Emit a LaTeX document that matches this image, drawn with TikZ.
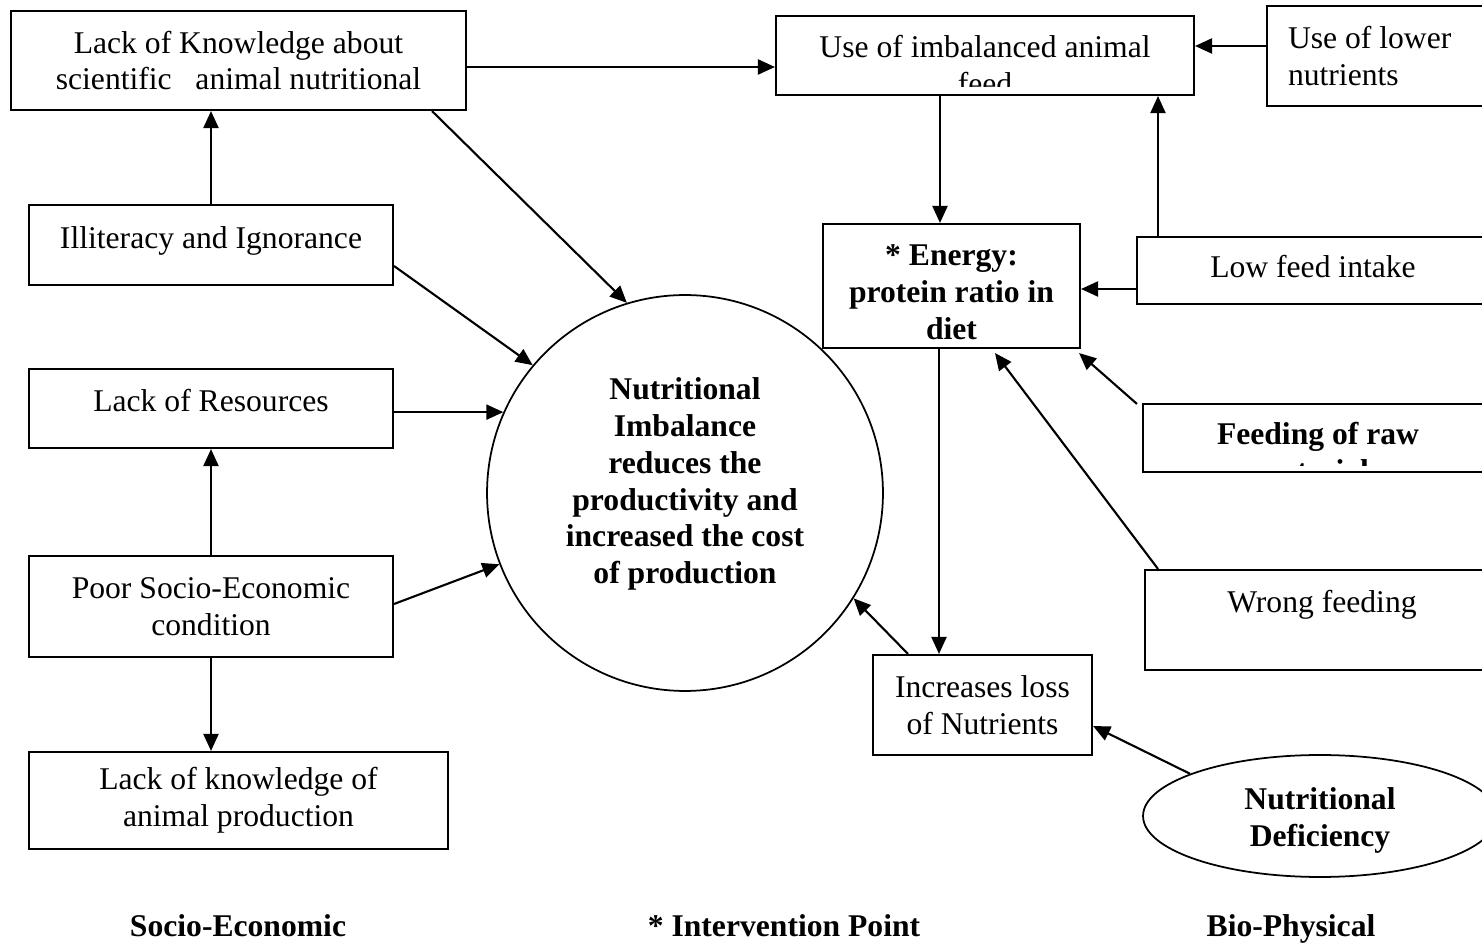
\documentclass[tikz,border=0pt]{standalone}
\usepackage{fontspec}
\setmainfont{Liberation Serif}
\usepackage{tikz}
\usetikzlibrary{arrows.meta,positioning,calc,shapes.geometric}

\begin{document}
\begin{tikzpicture}[x=0.02cm,y=-0.02cm,>=Stealth,
  txt/.style={align=center,inner sep=0pt,font=\fontsize{18}{21}\selectfont},
  btxt/.style={txt,font=\fontsize{18}{21}\selectfont\bfseries},
  box/.style={txt,draw,line width=1.2pt,rectangle},
  bbox/.style={btxt,draw,line width=1.2pt,rectangle},
  oneline/.style={text height=0.44cm,text depth=0.14cm},
  highline/.style={text height=0.44cm,text depth=0.30cm},
  link/.style={-{Triangle[length=0.34cm,width=0.3cm]},line width=1.2pt}]
\fill[white,use as bounding box] (0,0) rectangle (1482,945);
\clip (0,0) rectangle (1482,945);
% socio-economic side
\node[box,minimum width=9.1cm,minimum height=1.98cm] (know) at (238.5,60.5) {Lack of Knowledge about\\scientific \ \ animal nutritional};
\node[box,highline,minimum width=7.28cm,minimum height=1.6cm] (illit) at (211,245) {Illiteracy and Ignorance};
\node[box,highline,minimum width=7.28cm,minimum height=1.58cm] (res) at (211,408.5) {Lack of Resources};
\node[box,minimum width=7.28cm,minimum height=2.02cm] (poor) at (211,606.5) {Poor Socio-Economic\\condition};
\node[box,minimum width=8.38cm,minimum height=1.94cm] (prod) at (238.5,800.5) {Lack of knowledge of\\animal production};
% centre
\node[circle,draw,line width=1pt,minimum size=7.92cm,inner sep=0pt] (nib) at (685,493) {};
\node[btxt] (nibtext) at ($(nib.center)+(0,-9)$) {Nutritional\\Imbalance\\reduces the\\productivity and\\increased the cost\\of production};
% bio-physical side
\node[box,minimum width=8.36cm,minimum height=1.58cm] (imbal) at (985,55.5) {};
\begin{scope}
\clip (776,16) rectangle (1194,87);
\node[txt] (imbaltext) at (985,64.7) {Use of imbalanced animal\\feed};
\end{scope}
\node[box,align=flush left,text width=5.16cm,inner xsep=0.42cm,minimum height=2cm] (lower) at (1417,56) {Use of lower\\nutrients};
\node[bbox,minimum width=5.14cm,minimum height=2.48cm] (energy) at (951.5,286) {\rule{0pt}{0.67cm}* Energy:\\protein ratio in\\diet};
\node[box,oneline,minimum width=7.04cm,minimum height=1.34cm] (low) at (1313,270.5) {Low feed intake};
\node[box,minimum width=7cm,minimum height=1.36cm] (raw) at (1318,438) {};
\begin{scope}
\clip (1143,404) rectangle (1482,466);
\node[btxt] (rawtext) at (1318,452) {Feeding of raw\\materials};
\end{scope}
\node[box,text height=0.43cm,text depth=0.71cm,minimum width=7.08cm,minimum height=2cm] (wrong) at (1322,620) {Wrong feeding};
\node[box,minimum width=4.38cm,minimum height=2cm] (loss) at (982.5,705) {Increases loss\\of Nutrients};
\node[ellipse,draw,line width=1pt,btxt,minimum width=7.08cm,minimum height=2.44cm] (defi) at (1320,816) {\rule{0pt}{0.63cm}Nutritional\\Deficiency};
% connectors
\draw[link] (know.east |- 0,67) -- (imbal.west |- 0,67);
\draw[link] (know.south -| 432,0) -- (nib.107);
\draw[link] (illit.north) -- (know.south -| illit.north);
\draw[link] (illit.east |- 0,266) -- (nib.140);
\draw[link] (res.east |- nib.156) -- (nib.156);
\draw[link] (poor.north) -- (res.south);
\draw[link] (poor.east |- 0,604) -- (nib.201);
\draw[link] (poor.south) -- (prod.north -| poor.south);
\draw[link] (imbal.south -| 940,0) -- (energy.north -| 940,0);
\draw[link] (lower.west |- 0,46) -- (imbal.east |- 0,46);
\draw[link] (low.north -| 1158,0) -- (imbal.south -| 1158,0);
\draw[link] (low.west |- 0,289) -- (energy.east |- 0,289);
\draw[link] ([shift={(-5,1)}]raw.north west) -- ([shift={(-2,4)}]energy.south east);
\draw[link] (wrong.north -| 1158,0) -- ($(energy.south -| 995,0)+(0,4)$);
\draw[link] (energy.south -| 939,0) -- (loss.north -| 939,0);
\draw[link] (loss.north -| 908,0) -- (nib.328);
\draw[link] (defi.162) -- (loss.east |- 0,726);
% column titles
\node[btxt,anchor=base] (socio) at (238,936) {Socio-Economic};
\node[btxt,anchor=base] (inter) at (784,936) {* Intervention Point};
\node[btxt,anchor=base] (bio) at (1291,936) {Bio-Physical};
\end{tikzpicture}
\end{document}
